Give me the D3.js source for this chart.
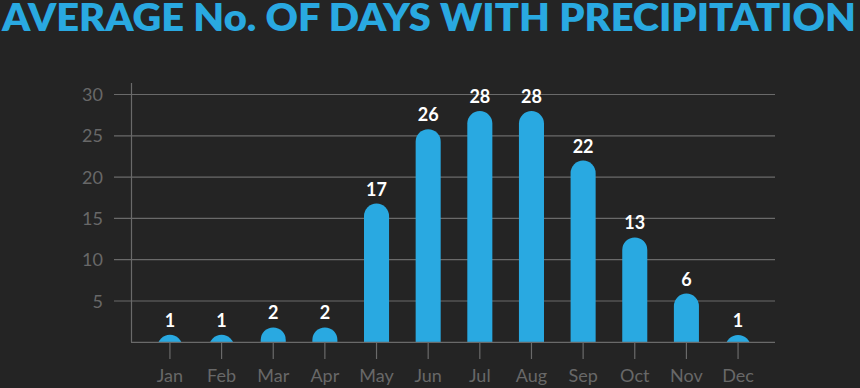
<!DOCTYPE html>
<html><head><meta charset="utf-8">
<script src="https://cdn.jsdelivr.net/npm/d3@7"></script>
<style>
html,body{margin:0;padding:0;background:#242424;}
svg{display:block;}
</style></head>
<body>
<script>
const months = ["Jan","Feb","Mar","Apr","May","Jun","Jul","Aug","Sep","Oct","Nov","Dec"];
const days = [0.9, 0.9, 1.8, 1.8, 16.8, 25.8, 28, 28, 22, 12.7, 5.9, 0.9];
const labels = [1, 1, 2, 2, 17, 26, 28, 28, 22, 13, 6, 1];
const yTicks = [5, 10, 15, 20, 25, 30];
const title = "AVERAGE No. OF DAYS WITH PRECIPITATION";

const W = 860, H = 388;
const blue = "#29a9e1", grid = "#6a6a6a", txt = "#686868";
const svg = d3.select("body").append("svg").attr("width", W).attr("height", H);
svg.append("rect").attr("width", W).attr("height", H).attr("fill", "#242424");

svg.append("text").attr("x", 2).attr("y", 31)
  .attr("font-family", "Lato, sans-serif").attr("font-weight", 800)
  .attr("font-size", 37).attr("fill", blue)
  .attr("textLength", 854).attr("lengthAdjust", "spacingAndGlyphs")
  .text(title);

const x = d3.scaleBand().domain(months).range([144.5, 763.5]).paddingInner(0.515).paddingOuter(0.25);
const y = d3.scaleLinear().domain([0, 30]).range([342.3, 94.5]);

// gridlines
svg.append("g").selectAll("line").data(yTicks).join("line")
  .attr("x1", 114).attr("x2", 775)
  .attr("y1", d => y(d)).attr("y2", d => y(d))
  .attr("stroke", grid).attr("stroke-width", 1.2);

// y tick labels
svg.append("g").selectAll("text").data(yTicks).join("text")
  .attr("x", 103).attr("y", d => y(d) + 6.5)
  .attr("text-anchor", "end")
  .attr("font-family", "Lato, sans-serif").attr("font-size", 18)
  .attr("fill", txt).text(d => d);

// bars with rounded tops, clipped at baseline
svg.append("defs").append("clipPath").attr("id", "plotclip")
  .append("rect").attr("x", 0).attr("y", 0).attr("width", W).attr("height", y(0));

const bw = x.bandwidth(), r = bw / 2;
svg.append("g").attr("clip-path", "url(#plotclip)")
  .selectAll("path").data(months).join("path")
  .attr("fill", blue)
  .attr("d", (m, i) => {
    const x0 = x(m), top = y(days[i]), b = y(0) + r + 2;
    return `M${x0},${b} L${x0},${top + r} A${r},${r} 0 0 1 ${x0 + bw},${top + r} L${x0 + bw},${b} Z`;
  });

// value labels
svg.append("g").selectAll("text").data(months).join("text")
  .attr("x", m => x(m) + bw / 2)
  .attr("y", (m, i) => y(days[i]) - 8)
  .attr("text-anchor", "middle")
  .attr("font-family", "Lato, sans-serif").attr("font-weight", 700)
  .attr("font-size", 18).attr("fill", "#ffffff")
  .text((m, i) => labels[i]);

// axes lines
svg.append("line").attr("x1", 131.5).attr("x2", 131.5).attr("y1", 83).attr("y2", y(0))
  .attr("stroke", grid).attr("stroke-width", 1.2);
svg.append("line").attr("x1", 131).attr("x2", 775).attr("y1", y(0)).attr("y2", y(0))
  .attr("stroke", grid).attr("stroke-width", 1.2);

// x ticks
svg.append("g").selectAll("line").data(months).join("line")
  .attr("x1", m => x(m) + bw / 2).attr("x2", m => x(m) + bw / 2)
  .attr("y1", y(0)).attr("y2", 359)
  .attr("stroke", grid).attr("stroke-width", 1.2);

svg.append("g").selectAll("text").data(months).join("text")
  .attr("x", m => x(m) + bw / 2).attr("y", 382)
  .attr("text-anchor", "middle")
  .attr("font-family", "Lato, sans-serif").attr("font-size", 18)
  .attr("fill", txt).text(m => m);
</script>
</body></html>
